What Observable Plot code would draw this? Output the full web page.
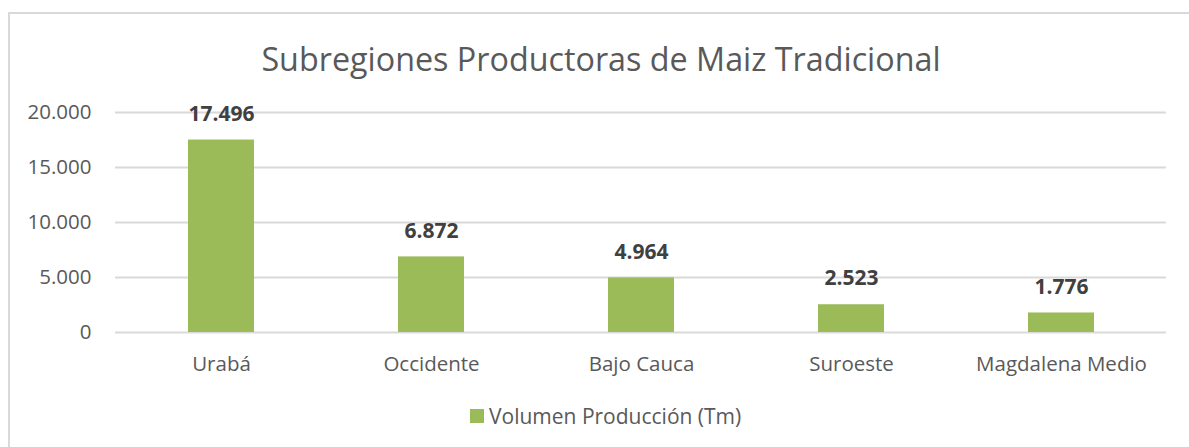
<!DOCTYPE html>
<html>
<head>
<meta charset="utf-8">
<script src="https://cdn.jsdelivr.net/npm/d3@7"></script>
<script src="https://cdn.jsdelivr.net/npm/@observablehq/plot@0.6"></script>
<style>
  html, body { margin: 0; padding: 0; background: #fff; }
  #wrap { position: relative; width: 1189px; height: 447px; overflow: hidden; font-family: "Open Sans", sans-serif; color: #595959; }
  #frame { position: absolute; left: 8px; top: 12px; width: 1200px; height: 500px; border: 2px solid #d9d9d9; box-sizing: border-box; }
  #title { position: absolute; left: 0; width: 1202px; top: 36px; text-align: center; font-size: 32.3px; line-height: 44px; color: #595959; }
  #legend { position: absolute; left: 470px; top: 402px; font-size: 21px; line-height: 28px; color: #595959; display: flex; align-items: center; }
  #legend .sw { width: 14px; height: 14px; background: #9bbb59; margin-right: 5px; }
  #chart { position: absolute; left: 0; top: 0; }
</style>
</head>
<body>
<div id="wrap">
  <div id="frame"></div>
  <div id="chart"></div>
  <div id="title">Subregiones Productoras de Maiz Tradicional</div>
  <div id="legend"><span class="sw"></span><span id="legtext">Volumen Producción (Tm)</span></div>
</div>
<script>
const categories = ["Urabá", "Occidente", "Bajo Cauca", "Suroeste", "Magdalena Medio"];
const values = [17496, 6872, 4964, 2523, 1776];
const yTicks = [0, 5000, 10000, 15000, 20000];
const seriesName = "Volumen Producción (Tm)";

const data = categories.map((c, i) => ({category: c, value: values[i]}));
const fmt = v => d3.format(",")(v).replace(/,/g, ".");

const chart = Plot.plot({
  width: 1189,
  height: 447,
  marginLeft: 115,
  marginRight: 23,
  marginTop: 112,
  marginBottom: 115,
  style: {fontFamily: "'Open Sans', sans-serif", fontSize: "20.5px", color: "#595959", overflow: "visible", background: "transparent"},
  x: {domain: categories, paddingInner: 0.686, paddingOuter: 0.343, label: null, tickSize: 0, tickPadding: 24},
  y: {domain: [0, 20000], label: null, ticks: yTicks, tickSize: 0, tickPadding: 24, tickFormat: fmt},
  marks: [
    Plot.gridY(yTicks, {stroke: "#d9d9d9", strokeOpacity: 1, strokeWidth: 2}),
    Plot.barY(data, {x: "category", y: "value", fill: "#9bbb59"}),
    Plot.text(data, {x: "category", y: "value", text: d => fmt(d.value), dy: -26, fontWeight: "bold", fontSize: 21, fill: "#404040"})
  ]
});
document.getElementById("chart").appendChild(chart);
document.getElementById("legtext").textContent = seriesName;
</script>
</body>
</html>
